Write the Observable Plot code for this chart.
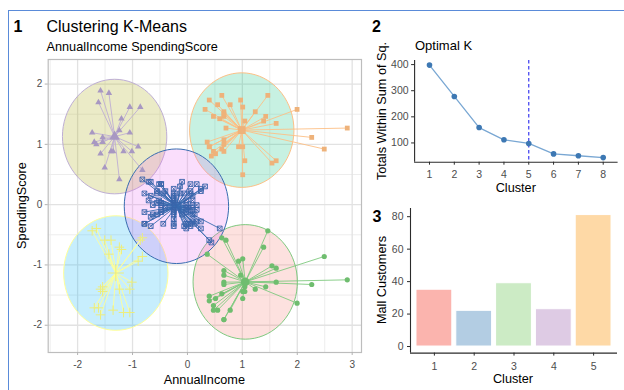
<!DOCTYPE html>
<html>
<head>
<meta charset="utf-8">
<script src="https://cdn.jsdelivr.net/npm/d3@7"></script>
<script src="https://cdn.jsdelivr.net/npm/@observablehq/plot@0.6"></script>
<style>
  body { margin: 0; background: #fff; }
  #page { position: relative; width: 624px; height: 390px; overflow: hidden; background: #fff;
          font-family: "Liberation Sans", Arial, sans-serif; }
  #box { position: absolute; left: 7.5px; top: 9.5px; width: 700px; height: 500px;
         border: 1.5px solid #5a8bd9; box-sizing: border-box; }
  .panel { position: absolute; }
  .panel svg { display: block; max-width: none; }
  #labels { position: absolute; left: 0; top: 0; pointer-events: none; }
</style>
</head>
<body>
<div id="page"><div id="box"></div></div>
<script>
// Mall customers, in customer order: annual income (k$) and spending score (1-100)
const income = [15,15,16,16,17,17,18,18,19,19, 19,19,20,20,20,20,21,21,23,23,
  24,24,25,25,28,28,28,28,29,29, 30,30,33,33,33,33,34,34,37,37,
  38,38,39,39,39,39,40,40,40,40, 42,42,43,43,43,43,44,44,46,46,
  46,46,47,47,48,48,48,48,48,48, 49,49,50,50,54,54,54,54,54,54,
  54,54,54,54,54,54,57,57,58,58, 59,59,60,60,60,60,60,60,61,61,
  62,62,62,62,62,62,63,63,63,63, 63,63,64,64,65,65,65,65,67,67,
  67,67,69,69,70,70,71,71,71,71, 71,71,72,72,73,73,73,73,74,74,
  75,75,76,76,77,77,77,77,78,78, 78,78,78,78,78,78,78,78,78,78,
  79,79,81,81,85,85,86,86,87,87, 87,87,87,87,88,88,88,88,93,93,
  97,97,98,98,99,99,101,101,103,103, 103,103,113,113,120,120,126,126,137,137];
const spending = [39,81,6,77,40,76,6,94,3,72, 14,99,15,77,13,79,35,66,29,98,
  35,73,5,73,14,82,32,61,31,87, 4,73,4,92,14,81,17,73,26,75,
  35,92,36,61,28,65,55,47,42,42, 52,60,54,60,45,41,50,46,51,46,
  56,55,52,59,51,59,50,48,59,47, 55,42,49,56,47,54,53,48,52,42,
  51,55,41,44,57,46,58,55,60,46, 55,41,49,40,42,52,47,50,42,49,
  41,48,59,55,56,42,50,46,43,48, 52,54,42,46,48,50,43,59,43,57,
  56,40,58,91,29,77,35,95,11,75, 9,75,34,71,5,88,7,73,10,72,
  5,93,40,87,12,97,36,74,22,90, 17,88,20,76,16,89,1,78,1,73,
  35,83,5,93,26,75,20,95,27,63, 13,75,10,92,13,86,15,69,14,90,
  32,86,15,88,39,97,24,68,17,85, 23,69,8,91,16,79,28,74,18,83];
// k-means (k = 5) cluster of each customer
const clusterOf = [4,2,4,2,4,2,4,2,4,2, 4,2,4,2,4,2,4,2,4,2,
  4,2,4,2,4,2,4,2,4,2, 4,2,4,2,4,2,4,2,4,2,
  4,2,4,5,4,2,5,5,5,5, 5,5,5,5,5,5,5,5,5,5,
  5,5,5,5,5,5,5,5,5,5, 5,5,5,5,5,5,5,5,5,5,
  5,5,5,5,5,5,5,5,5,5, 5,5,5,5,5,5,5,5,5,5,
  5,5,5,5,5,5,5,5,5,5, 5,5,5,5,5,5,5,5,5,5,
  5,5,5,3,1,3,5,3,1,3, 1,3,5,3,1,3,1,3,1,3,
  1,3,5,3,1,3,1,3,1,3, 1,3,1,3,1,3,1,3,1,3,
  1,3,1,3,1,3,1,3,1,3, 1,3,1,3,1,3,1,3,1,3,
  1,3,1,3,1,3,1,3,1,3, 1,3,1,3,1,3,1,3,1,3];
const clusterIds = [1, 2, 3, 4, 5];
const ellipseLevel = 0.95;

// elbow method: total within-cluster sum of squares per k
const kValues = [1, 2, 3, 4, 5, 6, 7, 8];
const wss = [398, 278, 159, 112, 98, 58, 51, 44];
const optimalK = 5;

// customers per cluster
const clusterSizes = [35, 22, 39, 23, 81];

// tick values
const xTicks1 = [-2, -1, 0, 1, 2, 3];
const yTicks1 = [-2, -1, 0, 1, 2];
const xMinor1 = [-2.5, -1.5, -0.5, 0.5, 1.5, 2.5];
const yMinor1 = [-1.5, -0.5, 0.5, 1.5];
const yTicks2 = [100, 200, 300, 400];
const yTicks3 = [0, 20, 40, 60, 80];

// ---- styles ----
const ellipseFill = {1: "#F8766D", 2: "#A3A500", 3: "#00BF7D", 4: "#00B0F6", 5: "#E76BF3"};
const clusterLine = {1: "#7FC97F", 2: "#BEAED4", 3: "#FDC086", 4: "#FFFF99", 5: "#386CB0"};
const clusterInk  = {1: "#6fbd6f", 2: "#a898c2", 3: "#eeb27a", 4: "#eded7c", 5: "#3a64aa"};
const barFill = ["#FBB4AE", "#B3CDE3", "#CCEBC5", "#DECBE4", "#FED9A6"];
const font = '"Liberation Sans", Arial, sans-serif';
const plain = d => String(d);

// standardise both variables (mean 0, sd 1)
const mx = d3.mean(income), sx = d3.deviation(income);
const my = d3.mean(spending), sy = d3.deviation(spending);
const customers = income.map((v, i) => ({
  x: (v - mx) / sx, y: (spending[i] - my) / sy, k: clusterOf[i]
}));
const centres = clusterIds.map(k => {
  const m = customers.filter(d => d.k === k);
  return {k, x: d3.mean(m, d => d.x), y: d3.mean(m, d => d.y)};
});
const centreOf = new Map(centres.map(c => [c.k, c]));

// circle of radius ellipseLevel round each centre
const rings = centres.map(c => ({
  k: c.k,
  pts: d3.range(0, 360, 5).map(a => ({
    x: c.x + ellipseLevel * Math.cos(a * Math.PI / 180),
    y: c.y + ellipseLevel * Math.sin(a * Math.PI / 180)
  }))
}));

// ggplot-like limits: data + circles, expanded 5%
function expand([a, b], f = 0.05) { const d = (b - a) * f; return [a - d, b + d]; }
const xDom1 = expand([
  Math.min(d3.min(customers, d => d.x), d3.min(centres, c => c.x - ellipseLevel)),
  Math.max(d3.max(customers, d => d.x), d3.max(centres, c => c.x + ellipseLevel))]);
const yDom1 = expand([
  Math.min(d3.min(customers, d => d.y), d3.min(centres, c => c.y - ellipseLevel)),
  Math.max(d3.max(customers, d => d.y), d3.max(centres, c => c.y + ellipseLevel))]);

function clusterPoints(data, k, big) {
  const s = big ? 1.65 : 1;
  const ink = clusterInk[k];
  if (k === 1) return [Plot.dot(data, {x: "x", y: "y", symbol: "circle", r: 2.6 * s, fill: ink})];
  if (k === 2) return [Plot.dot(data, {x: "x", y: "y", symbol: "triangle", r: 2.4 * s, fill: ink})];
  if (k === 3) return [Plot.dot(data, {x: "x", y: "y", symbol: "square", r: 2.7 * s, fill: ink})];
  if (k === 4) return [Plot.dot(data, {x: "x", y: "y", symbol: "plus", r: 3.2 * s, stroke: ink, strokeWidth: 1})];
  return [
    Plot.dot(data, {x: "x", y: "y", symbol: "square2", r: 3.0 * s, stroke: ink, strokeWidth: 0.9}),
    Plot.dot(data, {x: "x", y: "y", symbol: "times", r: 2.25 * s, stroke: ink, strokeWidth: 0.8})
  ];
}

const marks1 = [
  Plot.ruleX(xMinor1, {stroke: "#ededed", strokeWidth: 1}),
  Plot.ruleY(yMinor1, {stroke: "#ededed", strokeWidth: 1}),
  Plot.ruleX(xTicks1, {stroke: "#e2e2e2", strokeWidth: 1.3}),
  Plot.ruleY(yTicks1, {stroke: "#e2e2e2", strokeWidth: 1.3})
];
for (const r of rings) {
  marks1.push(Plot.line(r.pts, {x: "x", y: "y", curve: "linear-closed",
    fill: ellipseFill[r.k], fillOpacity: 0.22, stroke: clusterLine[r.k], strokeWidth: 1}));
}
for (const k of clusterIds) {
  const m = customers.filter(d => d.k === k);
  const c = centreOf.get(k);
  marks1.push(Plot.link(m, {x1: "x", y1: "y", x2: () => c.x, y2: () => c.y,
    stroke: clusterLine[k], strokeWidth: 0.9}));
}
for (const k of clusterIds) {
  marks1.push(...clusterPoints(customers.filter(d => d.k === k), k, false));
}
for (const k of clusterIds) {
  marks1.push(...clusterPoints([centreOf.get(k)], k, true));
}
marks1.push(
  Plot.frame({stroke: "#bdbdbd", strokeWidth: 1.2}),
  Plot.axisX({ticks: xTicks1, tickFormat: plain, tickSize: 3, tickPadding: 5,
    stroke: "#b3b3b3", fontSize: 10, label: null}),
  Plot.axisY({ticks: yTicks1, tickFormat: plain, tickSize: 3, tickPadding: 3,
    stroke: "#b3b3b3", fontSize: 10, label: null})
);

const plot1 = Plot.plot({
  width: 365, height: 390,
  marginLeft: 47.7, marginRight: 4, marginTop: 59, marginBottom: 38,
  x: {domain: xDom1}, y: {domain: yDom1},
  style: {color: "#4d4d4d", fontFamily: font, background: "transparent"},
  marks: marks1
});

// elbow chart
const elbow = kValues.map((k, i) => ({k, wss: wss[i]}));
const xDom2 = [kValues[0] - 0.6, kValues[kValues.length - 1] + 0.6];
const yDom2 = expand(d3.extent(wss));
const plot2 = Plot.plot({
  width: 262, height: 160,
  marginLeft: 52.1, marginRight: 6.4, marginTop: 20, marginBottom: 38.3,
  x: {domain: xDom2}, y: {domain: yDom2},
  style: {color: "#4d4d4d", fontFamily: font, background: "transparent"},
  marks: [
    Plot.line(elbow, {x: "k", y: "wss", stroke: "#79a7d3", strokeWidth: 1.3}),
    Plot.ruleX([optimalK], {stroke: "#3a3af0", strokeWidth: 1.2, strokeDasharray: "3.5,2.5"}),
    Plot.dot(elbow, {x: "k", y: "wss", r: 2.8, fill: "#3d78b3"}),
    Plot.ruleX([xDom2[0]], {stroke: "#2b2b2b", strokeWidth: 1.1}),
    Plot.ruleY([yDom2[0]], {stroke: "#2b2b2b", strokeWidth: 1.1}),
    Plot.axisX({ticks: kValues, tickFormat: plain, tickSize: 3, tickPadding: 5, stroke: "#2b2b2b", fontSize: 10.5, label: null}),
    Plot.axisY({ticks: yTicks2, tickFormat: plain, tickSize: 3, tickPadding: 3, stroke: "#2b2b2b", fontSize: 10.5, label: null})
  ]
});

// customers per cluster
const bars = clusterIds.map((k, i) => ({k, n: clusterSizes[i], fill: barFill[i]}));
const xDom3 = [clusterIds[0] - 0.6, clusterIds[clusterIds.length - 1] + 0.6];
const yDom3 = expand([0, d3.max(clusterSizes)]);
const plot3 = Plot.plot({
  width: 262, height: 190,
  marginLeft: 48, marginRight: 7, marginTop: 8, marginBottom: 37.4,
  x: {domain: xDom3}, y: {domain: yDom3},
  color: {type: "identity"},
  style: {color: "#4d4d4d", fontFamily: font, background: "transparent"},
  marks: [
    Plot.rect(bars, {x1: d => d.k - 0.45, x2: d => d.k + 0.45, y1: () => 0, y2: "n",
      fill: "fill", stroke: "white", strokeWidth: 1}),
    Plot.ruleX([xDom3[0]], {stroke: "#2b2b2b", strokeWidth: 1.1}),
    Plot.ruleY([yDom3[0]], {stroke: "#2b2b2b", strokeWidth: 1.1}),
    Plot.axisX({ticks: clusterIds, tickFormat: plain, tickSize: 3, tickPadding: 6, stroke: "#2b2b2b", fontSize: 10.5, label: null}),
    Plot.axisY({ticks: yTicks3, tickFormat: plain, tickSize: 3, tickPadding: 4, stroke: "#2b2b2b", fontSize: 10.5, label: null})
  ]
});

const page = document.getElementById("page");
function place(node, left, top) {
  const d = document.createElement("div");
  d.className = "panel";
  d.style.left = left + "px";
  d.style.top = top + "px";
  d.appendChild(node);
  page.appendChild(d);
}
place(plot1, 0, 0);
place(plot2, 362, 40);
place(plot3, 362, 200);

// panel numbers, titles and axis titles
const svg = d3.select(page).append("svg").attr("id", "labels")
  .attr("width", 624).attr("height", 390)
  .style("font-family", font).attr("fill", "#000");
const texts = [
  {t: "1", x: 13.5, y: 31.5, size: 16, bold: true},
  {t: "Clustering K-Means", x: 46.5, y: 31.5, size: 16},
  {t: "AnnualIncome SpendingScore", x: 46.5, y: 50.5, size: 12.7},
  {t: "AnnualIncome", x: 204.4, y: 384, size: 12.7, anchor: "middle"},
  {t: "SpendingScore", x: 26, y: 205.5, size: 12.7, anchor: "middle", rot: true},
  {t: "2", x: 372, y: 31.5, size: 16, bold: true},
  {t: "Optimal K", x: 415, y: 49.5, size: 13},
  {t: "Totals Within Sum of Sq.", x: 386, y: 111, size: 12.7, anchor: "middle", rot: true},
  {t: "Cluster", x: 515.8, y: 192, size: 12.7, anchor: "middle"},
  {t: "3", x: 372.5, y: 222, size: 16, bold: true},
  {t: "Mall Customers", x: 386, y: 280, size: 12.7, anchor: "middle", rot: true},
  {t: "Cluster", x: 513, y: 382.5, size: 12.7, anchor: "middle"}
];
for (const d of texts) {
  const el = svg.append("text")
    .attr("font-size", d.size)
    .attr("font-weight", d.bold ? "bold" : null)
    .attr("text-anchor", d.anchor || "start")
    .text(d.t);
  if (d.rot) el.attr("transform", `translate(${d.x},${d.y}) rotate(-90)`);
  else el.attr("x", d.x).attr("y", d.y);
}
</script>
</body>
</html>
